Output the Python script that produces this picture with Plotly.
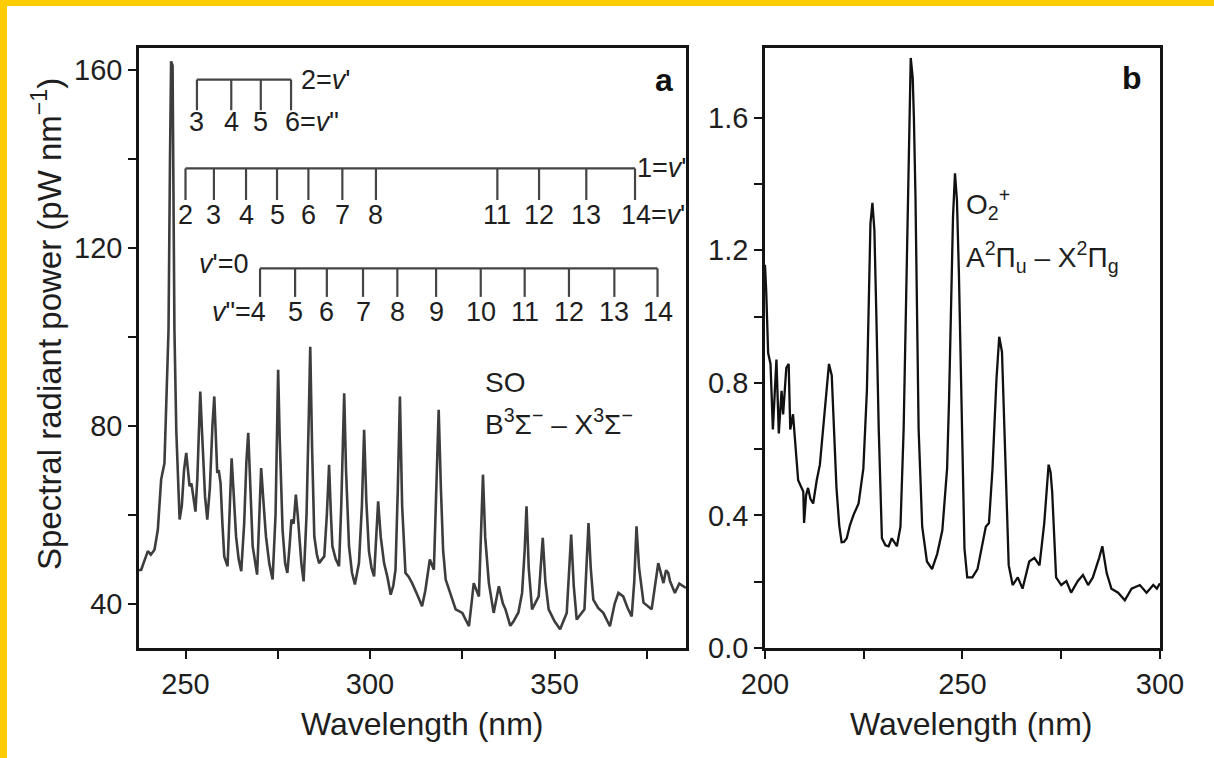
import plotly.graph_objects as go

# ---------------- Panel a: SO B-X emission spectrum ----------------
so_wavelength = [237.4, 238.0, 238.8, 239.8, 240.6, 241.6, 242.5, 243.0, 243.4, 244.3, 245.0, 245.4, 245.8, 246.1,
                 246.5, 246.8, 247.0, 247.5, 248.0, 248.4, 249.0, 249.6, 250.2, 250.7, 251.1, 251.6, 252.2, 252.7,
                 253.2, 253.6, 254.0, 254.4, 254.7, 255.3, 255.9, 256.6, 257.3, 257.8, 258.2, 258.6, 259.0, 259.5,
                 260.0, 260.5, 261.4, 262.0, 262.5, 263.1, 263.7, 264.4, 265.1, 265.9, 266.5, 267.0, 267.6, 268.2,
                 269.4, 270.0, 270.5, 271.2, 271.8, 272.7, 273.6, 274.4, 274.8, 275.1, 275.5, 276.3, 277.0, 277.6,
                 278.2, 278.7, 279.3, 279.9, 280.4, 280.8, 281.4, 282.0, 282.8, 283.4, 283.8, 284.3, 284.9, 285.6,
                 286.2, 287.0, 287.6, 288.3, 288.9, 289.4, 289.8, 290.7, 291.6, 292.2, 292.7, 293.0, 293.5, 294.3,
                 295.1, 295.9, 297.0, 297.8, 298.4, 299.0, 299.7, 300.4, 301.1, 301.7, 302.2, 302.9, 303.8, 304.7,
                 305.6, 306.3, 306.9, 307.5, 308.1, 308.7, 309.6, 310.5, 311.4, 312.8, 314.1, 315.0, 316.2, 317.3,
                 318.0, 318.6, 319.2, 319.8, 320.5, 321.8, 323.2, 325.0, 326.8, 327.5, 328.1, 329.5, 330.1, 330.6,
                 331.2, 332.2, 333.5, 334.9, 336.0, 336.7, 338.0, 338.9, 340.2, 341.2, 341.9, 342.4, 343.0, 343.9,
                 345.7, 346.3, 346.8, 347.5, 348.4, 350.0, 351.5, 353.3, 354.0, 354.5, 355.2, 356.0, 358.1, 358.7,
                 359.2, 359.8, 360.5, 361.8, 363.2, 365.0, 366.3, 367.3, 368.6, 369.8, 370.9, 371.6, 372.2, 372.9,
                 374.1, 376.3, 377.3, 378.1, 379.5, 380.2, 380.8, 381.3, 382.6, 383.8, 385.6]
so_power = [47.5, 47.6, 49.5, 51.8, 51.0, 52.1, 56.6, 62.0, 67.9, 71.6, 90.3, 101.6, 140.0, 162.0,
            161.0, 130.0, 101.6, 79.0, 65.0, 58.9, 62.0, 70.0, 73.9, 70.0, 66.4, 67.0, 64.1, 60.7,
            68.0, 80.0, 87.7, 80.0, 73.1, 64.0, 58.9, 66.0, 80.0, 86.6, 78.0, 69.4, 70.0, 67.1,
            58.0, 50.6, 48.4, 60.0, 72.7, 64.0, 55.1, 50.0, 47.3, 58.0, 72.0, 78.4, 64.0, 52.9,
            46.5, 58.0, 70.5, 62.0, 55.1, 49.0, 45.4, 60.0, 80.0, 92.6, 78.0, 56.6, 49.0, 46.9,
            53.0, 58.9, 58.0, 64.5, 60.0, 55.1, 49.0, 45.0, 60.0, 82.0, 97.8, 75.0, 55.1, 51.0,
            49.1, 50.0, 50.6, 60.0, 71.2, 60.0, 52.9, 50.0, 48.4, 62.0, 80.0, 87.3, 70.0, 52.9,
            47.0, 44.3, 49.1, 62.0, 79.1, 63.0, 51.8, 48.0, 46.1, 54.0, 63.0, 55.0, 49.1, 46.0,
            42.0, 44.0, 47.6, 65.0, 86.6, 62.0, 46.9, 46.0, 44.6, 42.0, 39.4, 43.0, 49.9, 47.6,
            65.0, 83.6, 66.0, 52.0, 45.4, 42.0, 38.7, 37.9, 34.9, 40.0, 44.6, 41.6, 55.0, 69.0,
            55.0, 44.6, 37.9, 43.9, 40.0, 38.7, 35.0, 36.0, 38.0, 42.4, 52.0, 61.9, 48.0, 38.7,
            41.6, 48.0, 54.8, 45.0, 38.7, 36.0, 34.2, 37.9, 48.0, 55.5, 44.0, 36.4, 38.7, 50.0,
            58.1, 48.0, 40.9, 39.0, 37.9, 34.9, 40.0, 42.4, 41.6, 39.0, 37.1, 45.0, 57.4, 48.0,
            40.2, 38.7, 44.0, 49.1, 44.6, 47.5, 46.9, 45.0, 42.4, 44.5, 43.5]

# Vibrational band assignments (band-head wavelengths, nm)
prog2_vpp = ["3", "4", "5", "6"]
prog2_wl = [253.1, 262.4, 270.4, 278.6]
prog1_vpp = ["2", "3", "4", "5", "6", "7", "8", "11", "12", "13", "14"]
prog1_wl = [250.0, 257.7, 266.4, 274.8, 283.3, 292.5, 301.6, 334.5, 345.8, 358.6, 371.8]
prog0_vpp = ["4", "5", "6", "7", "8", "9", "10", "11", "12", "13", "14"]
prog0_wl = [270.2, 279.7, 288.3, 298.1, 307.4, 317.9, 330.0, 341.9, 353.9, 366.2, 377.9]

# ---------------- Panel b: O2+ A-X emission spectrum ----------------
o2_wavelength = [200.0, 200.3, 200.8, 201.4, 202.0, 202.5, 202.9, 203.5, 204.2, 204.6, 205.4, 206.0, 206.4, 207.1,
                 207.7, 208.4, 209.0, 209.7, 209.9, 210.4, 210.9, 211.5, 212.2, 213.1, 213.9, 214.6, 215.2, 216.2,
                 216.9, 217.5, 218.1, 218.8, 219.4, 220.0, 220.7, 221.5, 222.4, 223.7, 224.9, 225.8, 226.3, 226.7,
                 227.2, 227.7, 228.2, 228.8, 229.6, 230.5, 231.3, 232.1, 233.4, 234.3, 235.1, 235.6, 236.0, 236.5,
                 236.9, 237.4, 237.7, 238.1, 238.9, 239.8, 241.0, 242.3, 243.6, 244.9, 246.1, 246.6, 247.0, 247.6,
                 248.1, 248.6, 249.1, 249.6, 250.0, 250.5, 251.2, 252.5, 253.8, 254.6, 255.9, 256.7, 257.6, 258.6,
                 259.3, 260.0, 260.6, 261.7, 262.7, 264.0, 265.2, 266.0, 266.9, 268.2, 269.5, 270.7, 271.4, 271.8,
                 272.3, 272.7, 273.7, 275.0, 276.3, 277.5, 279.2, 280.5, 281.8, 283.0, 284.6, 285.4, 286.5, 287.7,
                 289.4, 291.1, 292.8, 294.9, 296.6, 298.3, 299.2, 300.0]
o2_power = [1.156, 1.08, 0.89, 0.857, 0.659, 0.80, 0.87, 0.647, 0.776, 0.705, 0.845, 0.857, 0.659, 0.705,
            0.611, 0.506, 0.49, 0.472, 0.377, 0.46, 0.483, 0.45, 0.436, 0.506, 0.553, 0.64, 0.717, 0.857,
            0.822, 0.65, 0.483, 0.37, 0.319, 0.32, 0.331, 0.37, 0.401, 0.436, 0.541, 0.776, 1.05, 1.28,
            1.343, 1.26, 1.0, 0.659, 0.331, 0.31, 0.307, 0.331, 0.307, 0.366, 0.659, 1.0, 1.243, 1.6,
            1.78, 1.72, 1.6, 1.361, 0.659, 0.366, 0.261, 0.238, 0.284, 0.355, 0.541, 0.75, 1.01, 1.30,
            1.432, 1.35, 1.126, 0.8, 0.541, 0.30, 0.213, 0.213, 0.238, 0.284, 0.366, 0.377, 0.541, 0.81,
            0.939, 0.893, 0.659, 0.25, 0.19, 0.213, 0.179, 0.22, 0.261, 0.272, 0.249, 0.377, 0.50, 0.553,
            0.53, 0.472, 0.213, 0.19, 0.202, 0.167, 0.202, 0.22, 0.19, 0.213, 0.272, 0.307, 0.226, 0.179,
            0.167, 0.144, 0.179, 0.19, 0.167, 0.19, 0.179, 0.195]

# ---------------- styling constants ----------------
FONT = "Liberation Sans, Arial, Helvetica, sans-serif"
TXT = "#1e1e1e"
SO_COLOR = "#3d3d3d"
PROG_COLOR = "#444444"
LBL = 27

# layout levels of the progression combs (in panel-a data units)
levels = {
    "v2": dict(line=157.9, tick=151.0, label=148.4),
    "v1": dict(line=137.9, tick=130.8, label=127.4),
    "v0": dict(line=115.4, tick=109.0, label=105.6),
}

fig = go.Figure()

fig.add_trace(go.Scatter(x=so_wavelength, y=so_power, mode="lines",
                         line=dict(color=SO_COLOR, width=2.6), xaxis="x", yaxis="y",
                         showlegend=False, hoverinfo="skip"))
fig.add_trace(go.Scatter(x=o2_wavelength, y=o2_power, mode="lines",
                         line=dict(color="#111111", width=2.3), xaxis="x2", yaxis="y2",
                         showlegend=False, hoverinfo="skip"))


def comb(wls, lv):
    xs, ys = [wls[0], wls[-1], None], [lv["line"], lv["line"], None]
    for w in wls:
        xs += [w, w, None]
        ys += [lv["line"], lv["tick"], None]
    return xs, ys


annotations = []
for key, wls, labels in [("v2", prog2_wl, prog2_vpp), ("v1", prog1_wl, prog1_vpp), ("v0", prog0_wl, prog0_vpp)]:
    lv = levels[key]
    xs, ys = comb(wls, lv)
    fig.add_trace(go.Scatter(x=xs, y=ys, mode="lines", line=dict(color=PROG_COLOR, width=2.2),
                             xaxis="x", yaxis="y", showlegend=False, hoverinfo="skip"))
    for i, (w, lab) in enumerate(zip(wls, labels)):
        if key in ("v2", "v1") and i == len(wls) - 1:
            annotations.append(dict(x=w, y=lv["label"], xref="x", yref="y", text=lab + "=<i>v</i>\"",
                                    showarrow=False, xanchor="left", yanchor="middle",
                                    xshift=-8 * len(lab), font=dict(size=LBL, family=FONT, color=TXT)))
        elif key == "v0" and i == 0:
            annotations.append(dict(x=w, y=lv["label"], xref="x", yref="y", text="<i>v</i>\"=" + lab,
                                    showarrow=False, xanchor="right", yanchor="middle",
                                    xshift=8, font=dict(size=LBL, family=FONT, color=TXT)))
        else:
            annotations.append(dict(x=w, y=lv["label"], xref="x", yref="y", text=lab,
                                    showarrow=False, xanchor="center", yanchor="middle",
                                    font=dict(size=LBL, family=FONT, color=TXT)))

# progression upper-state labels
annotations.append(dict(x=prog2_wl[-1], y=levels["v2"]["line"], xref="x", yref="y", text="2=<i>v</i>'",
                        showarrow=False, xanchor="left", yanchor="middle", xshift=8,
                        font=dict(size=LBL, family=FONT, color=TXT)))
annotations.append(dict(x=prog1_wl[-1], y=levels["v1"]["line"], xref="x", yref="y", text="1=<i>v</i>'",
                        showarrow=False, xanchor="left", yanchor="middle", xshift=0,
                        font=dict(size=LBL, family=FONT, color=TXT)))
annotations.append(dict(x=prog0_wl[0], y=levels["v0"]["line"] + 1.0, xref="x", yref="y", text="<i>v</i>'=0",
                        showarrow=False, xanchor="right", yanchor="middle", xshift=-10,
                        font=dict(size=LBL, family=FONT, color=TXT)))

# species labels
annotations += [
    dict(x=330.6, y=89.8, xref="x", yref="y", text="SO", showarrow=False, xanchor="left",
         yanchor="middle", font=dict(size=28, family=FONT, color=TXT)),
    dict(x=330.6, y=80.8, xref="x", yref="y", text="B<sup>3</sup>Σ<sup>−</sup> – X<sup>3</sup>Σ<sup>−</sup>",
         showarrow=False, xanchor="left", yanchor="middle", font=dict(size=28, family=FONT, color=TXT)),
    dict(x=250.4, y=1.34, xref="x2", yref="y2", text="O<sub>2</sub><sup>+</sup>", showarrow=False,
         xanchor="left", yanchor="middle", font=dict(size=28, family=FONT, color=TXT)),
    dict(x=250.4, y=1.18, xref="x2", yref="y2", text="A<sup>2</sup>Π<sub>u</sub> – X<sup>2</sup>Π<sub>g</sub>",
         showarrow=False, xanchor="left", yanchor="middle", font=dict(size=28, family=FONT, color=TXT)),
    # panel letters
    dict(x=0.5142, y=0.9467, xref="paper", yref="paper", text="<b>a</b>", showarrow=False,
         xanchor="center", yanchor="middle", font=dict(size=32, family=FONT, color="#111")),
    dict(x=0.9726, y=0.95, xref="paper", yref="paper", text="<b>b</b>", showarrow=False,
         xanchor="center", yanchor="middle", font=dict(size=32, family=FONT, color="#111")),
    # axis titles
    dict(x=-0.0901, y=0.54, xref="paper", yref="paper", text="Spectral radiant power (pW nm<sup>−1</sup>)",
         textangle=-90, showarrow=False, xanchor="center", yanchor="middle",
         font=dict(size=33, family=FONT, color=TXT)),
    dict(x=0.2772, y=-0.1267, xref="paper", yref="paper", text="Wavelength (nm)", showarrow=False,
         xanchor="center", yanchor="middle", font=dict(size=32, family=FONT, color=TXT)),
    dict(x=0.8149, y=-0.1267, xref="paper", yref="paper", text="Wavelength (nm)", showarrow=False,
         xanchor="center", yanchor="middle", font=dict(size=32, family=FONT, color=TXT)),
]

axis_common = dict(showgrid=False, zeroline=False, showline=True, mirror=True, linecolor="#141414",
                   linewidth=2.5, ticks="outside", ticklen=8, tickwidth=2, tickcolor="#141414",
                   tickfont=dict(size=29, family=FONT, color=TXT))

fig.update_layout(
    width=1214, height=758, autosize=False,
    margin=dict(l=139, r=54, t=48, b=110),
    paper_bgcolor="white", plot_bgcolor="white",
    xaxis=dict(domain=[0, 0.5357], range=[237.4, 385.6], tickvals=[250, 300, 350],
               minor=dict(tickvals=[275, 325, 375], ticks="outside", ticklen=8, tickwidth=2, tickcolor="#141414"),
               anchor="y", **axis_common),
    yaxis=dict(domain=[0, 1], range=[30, 165], tickvals=[40, 80, 120, 160],
               minor=dict(tickvals=[60, 100, 140], ticks="outside", ticklen=8, tickwidth=2, tickcolor="#141414"),
               anchor="x", **axis_common),
    xaxis2=dict(domain=[0.6131, 1], range=[200, 300], tickvals=[200, 250, 300],
                minor=dict(tickvals=[225, 275], ticks="outside", ticklen=8, tickwidth=2, tickcolor="#141414"),
                anchor="y2", **axis_common),
    yaxis2=dict(domain=[0, 1], range=[0, 1.81], tickvals=[0, 0.4, 0.8, 1.2, 1.6],
                ticktext=["0.0", "0.4", "0.8", "1.2", "1.6"],
                minor=dict(tickvals=[0.2, 0.6, 1.0, 1.4], ticks="outside", ticklen=8, tickwidth=2,
                           tickcolor="#141414"),
                anchor="x2", **axis_common),
    annotations=annotations,
    shapes=[
        dict(type="rect", xref="paper", yref="paper", x0=-0.1362, x1=-0.1293, y0=-0.1834, y1=1.081,
             fillcolor="#FFCC00", line=dict(width=0), layer="below"),
        dict(type="rect", xref="paper", yref="paper", x0=-0.1362, x1=1.0529, y0=1.07, y1=1.081,
             fillcolor="#FFCC00", line=dict(width=0), layer="below"),
    ],
)

fig.write_html("out.html", config={"displayModeBar": False},
               post_script="document.body.style.margin='0';document.body.style.padding='0';"
                           "document.body.style.overflow='hidden';")
